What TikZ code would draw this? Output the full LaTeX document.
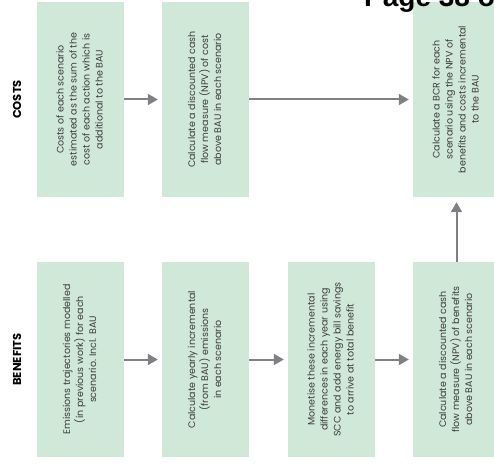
\documentclass[tikz,border=0pt]{standalone}
\usepackage{fontspec}
\setmainfont{Poppins}
\newfontfamily\pagefont{Liberation Sans}
\usetikzlibrary{arrows.meta}
\definecolor{boxgreen}{RGB}{208,232,215}
\definecolor{arrgray}{RGB}{128,128,132}
\definecolor{txtgray}{RGB}{60,60,60}
\newcommand{\boxtext}[1]{\rotatebox{90}{\fontsize{9.5}{13}\selectfont\begin{tabular}{@{}c@{}}#1\end{tabular}}}
\begin{document}
\begin{tikzpicture}[x=1pt,y=1pt,
  stepbox/.style={rectangle, fill=boxgreen, draw=none, minimum width=87pt, minimum height=195pt, inner sep=0pt, text=txtgray},
  arr/.style={draw=arrgray, line width=2pt, -{Triangle[length=10pt,width=11pt]}, shorten >=4pt},
  rowlbl/.style={rotate=90, font=\bfseries\fontsize{11.5}{13}\selectfont, text=black}
]
\useasboundingbox (0,0) rectangle (494,468);
% costs row
\node[stepbox] (c1) at (80.5,368.5) {\boxtext{Costs of each scenario\\estimated as the sum of the\\cost of each action which is\\additional to the BAU}};
\node[stepbox] (c2) at (205.5,368.5) {\boxtext{Calculate a discounted cash\\flow measure (NPV) of cost\\above BAU in each scenario}};
\node[stepbox] (c3) at (456.5,368.5) {\boxtext{Calculate a BCR for each\\scenario using the NPV of\\benefits and costs incremental\\to the BAU}};
% benefits row
\node[stepbox] (b1) at (80.5,108.5) {\boxtext{Emissions trajectories modelled\\(in previous work) for each\\scenario. Incl. BAU}};
\node[stepbox] (b2) at (205.5,108.5) {\boxtext{Calculate yearly incremental\\(from BAU) emissions\\in each scenario}};
\node[stepbox] (b3) at (331.5,108.5) {\boxtext{Monetise these incremental\\differences in each year using\\SCC and add energy bill savings\\to arrive at total benefit}};
\node[stepbox] (b4) at (456.5,108.5) {\boxtext{Calculate a discounted cash\\flow measure (NPV) of benefits\\above BAU in each scenario}};
% row labels
\node[rowlbl] (costs) at (17,368.5) {COSTS};
\node[rowlbl] (benefits) at (17,108.5) {BENEFITS};
% page header
\node[anchor=base west, inner sep=0pt, font=\pagefont\bfseries\fontsize{28}{28}\selectfont] (page) at (364,461) {Page 38 o};
% connectors
\draw[arr] (c1) -- (c2);
\draw[arr] (c2) -- (c3);
\draw[arr] (b1) -- (b2);
\draw[arr] (b2) -- (b3);
\draw[arr] (b3) -- (b4);
\draw[arr, shorten >=5pt] (b4) -- (c3);
\end{tikzpicture}
\end{document}
